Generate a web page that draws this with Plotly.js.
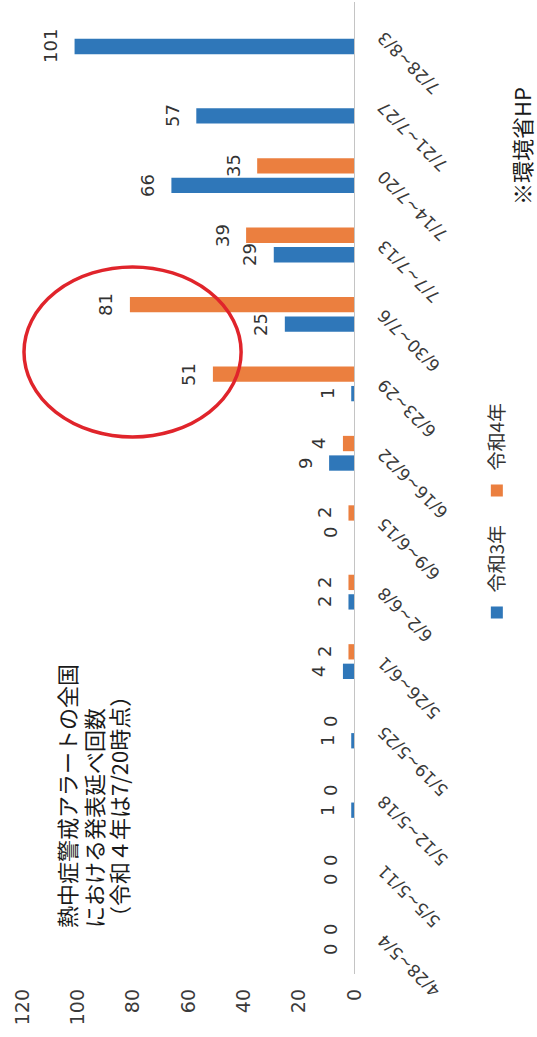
<!DOCTYPE html>
<html>
<head>
<meta charset="utf-8">
<script src="https://cdn.plot.ly/plotly-3.0.1.min.js"></script>
<style>
  html, body { margin: 0; padding: 0; width: 537px; height: 1037px; overflow: hidden; background: #ffffff; }
  #chart {
    position: absolute; left: 0; top: 0;
    width: 1037px; height: 537px;
    transform-origin: 0 0;
    transform: translate(0px, 1037px) rotate(-90deg);
  }
</style>
</head>
<body>
<div id="chart"></div>
<script>
// ---- data ----
const categories = ["4/28~5/4","5/5~5/11","5/12~5/18","5/19~5/25","5/26~6/1","6/2~6/8","6/9~6/15","6/16~6/22","6/23~29","6/30~7/6","7/7~7/13","7/14~7/20","7/21~7/27","7/28~8/3"];
const reiwa3 = [0, 0, 1, 1, 4, 2, 0, 9, 1, 25, 29, 66, 57, 101];
const reiwa4 = [0, 0, 0, 0, 2, 2, 2, 4, 51, 81, 39, 35, null, null];
const seriesNames = ["令和3年", "令和4年"];
const valueTicks = [0, 20, 40, 60, 80, 100, 120];
const valueTickLabels = ["\u2007\u20070", "\u200720", "\u200740", "\u200760", "\u200780", "100", "120"];
const titleLines = ["熱中症警戒アラートの全国", "における発表延べ回数", "（令和４年は7/20時点）"];
const sourceNote = "※環境省HP";

// ---- styles ----
const BLUE = "#2f77b9";
const ORANGE = "#eb7f3f";
const NUM_FONT = "DejaVu Sans, Liberation Sans, sans-serif";
const JP_FONT = "Noto Sans CJK JP, Noto Sans, sans-serif";

const traces = [
  { type: "bar", name: seriesNames[0], x: categories, y: reiwa3, marker: { color: BLUE }, hoverinfo: "none" },
  { type: "bar", name: seriesNames[1], x: categories, y: reiwa4, marker: { color: ORANGE }, hoverinfo: "none" }
];

const annotations = [];
const slot = 9.75;
[reiwa3, reiwa4].forEach((vals, s) => {
  vals.forEach((v, i) => {
    if (v === null) return;
    annotations.push({
      x: categories[i], y: v, xref: "x", yref: "y",
      text: String(v), showarrow: false,
      xanchor: "center", yanchor: "middle",
      xshift: s === 0 ? -slot : slot, yshift: 24,
      font: { family: NUM_FONT, size: 18, color: "#333333" }
    });
  });
});

const titleY = [0.868, 0.787, 0.711];
titleLines.forEach((t, k) => {
  annotations.push({
    text: t, xref: "paper", yref: "paper",
    x: 0.0453, y: titleY[k], xanchor: "left", yanchor: "middle",
    showarrow: false, align: "left",
    font: { family: JP_FONT, size: 22, color: "#1a1a1a" }
  });
});

annotations.push({
  text: sourceNote, xref: "paper", yref: "paper",
  x: 0.789, y: -0.503, xanchor: "left", yanchor: "middle",
  showarrow: false,
  font: { family: JP_FONT, size: 22, color: "#1a1a1a" }
});

const layout = {
  width: 1037, height: 537,
  margin: { l: 63, r: 2, t: 22, b: 183 },
  paper_bgcolor: "#ffffff", plot_bgcolor: "#ffffff",
  barmode: "group", bargap: 0.438, bargroupgap: 0.215,
  showlegend: true,
  legend: {
    orientation: "h", xref: "container", yref: "container",
    x: 0.39, y: 0.0745, xanchor: "left", yanchor: "middle",
    entrywidth: 77, entrywidthmode: "pixels",
    font: { family: JP_FONT, size: 19, color: "#333333" },
    traceorder: "normal", bgcolor: "rgba(0,0,0,0)"
  },
  xaxis: {
    type: "category", showgrid: false, zeroline: false,
    showline: true, linecolor: "#c4c4c4", linewidth: 1,
    ticks: "", tickangle: -45, ticklabelstandoff: 12,
    tickfont: { family: NUM_FONT, size: 17, color: "#3a3a3a" }
  },
  yaxis: {
    range: [0, 120], showgrid: false, zeroline: false, showline: false,
    tickmode: "array", tickvals: valueTicks, ticktext: valueTickLabels,
    ticks: "", ticklabelstandoff: 14,
    tickfont: { family: NUM_FONT, size: 19, color: "#3a3a3a" }
  },
  annotations: annotations,
  shapes: [{
    type: "circle", xref: "paper", yref: "paper",
    x0: 0.5525, x1: 0.7274, y0: 0.340, y1: 0.994,
    line: { color: "#e0242b", width: 3.5 }
  }]
};

Plotly.newPlot("chart", traces, layout, { displayModeBar: false, staticPlot: true });
</script>
</body>
</html>
